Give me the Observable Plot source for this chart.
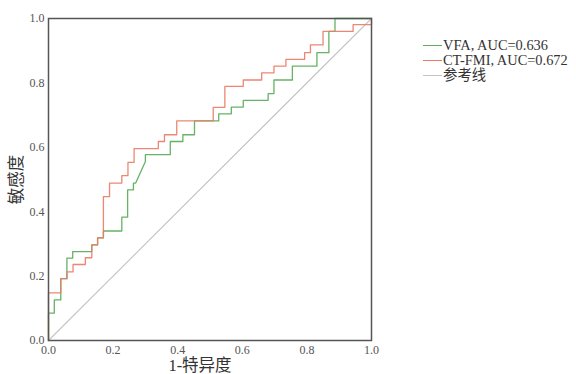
<!DOCTYPE html>
<html>
<head>
<meta charset="utf-8">
<script src="https://cdn.jsdelivr.net/npm/d3@7"></script>
<script src="https://cdn.jsdelivr.net/npm/@observablehq/plot@0.6"></script>
<style>
  html, body { margin: 0; padding: 0; background: #fff; }
  #wrap { position: relative; width: 576px; height: 374px; }
  #legend { position: absolute; left: 423px; top: 38px; font-family: "Liberation Serif", "Noto Sans CJK SC", serif; font-size: 14.4px; color: #333; line-height: 15px; }
  .row { display: flex; align-items: center; height: 15px; white-space: nowrap; }
  .sw { width: 19px; height: 0; border-top: 1.2px solid; margin-right: 1px; }
</style>
</head>
<body>
<div id="wrap"><div id="legend"></div></div>
<script>
const seriesNames = ["VFA, AUC=0.636", "CT-FMI, AUC=0.672", "参考线"];
const seriesColors = ["#5eae5e", "#ea7a64", "#c4c4c4"];

const vfaFpr = [0,0,0.018,0.018,0.038,0.038,0.057,0.057,0.075,0.075,0.134,0.134,0.152,0.152,0.170,0.170,0.227,0.227,0.245,0.245,0.263,0.263,0.270,0.300,0.300,0.377,0.377,0.416,0.416,0.452,0.452,0.527,0.527,0.566,0.566,0.603,0.603,0.680,0.680,0.698,0.698,0.755,0.755,0.831,0.831,0.868,0.868,0.887,0.887,1];
const vfaTpr = [0,0.085,0.085,0.126,0.126,0.192,0.192,0.256,0.256,0.276,0.276,0.297,0.297,0.319,0.319,0.340,0.340,0.383,0.383,0.468,0.468,0.489,0.489,0.556,0.577,0.577,0.618,0.618,0.639,0.639,0.682,0.682,0.704,0.704,0.725,0.725,0.746,0.746,0.767,0.767,0.809,0.809,0.852,0.852,0.894,0.894,0.960,0.960,1,1];

const ctFpr = [0,0,0.038,0.038,0.057,0.057,0.076,0.076,0.114,0.114,0.134,0.134,0.152,0.152,0.170,0.170,0.189,0.189,0.227,0.227,0.246,0.246,0.265,0.265,0.340,0.340,0.359,0.359,0.397,0.397,0.510,0.510,0.546,0.546,0.603,0.603,0.660,0.660,0.698,0.698,0.735,0.735,0.793,0.793,0.811,0.811,0.850,0.850,0.943,0.943,1,1];
const ctTpr = [0,0.148,0.148,0.192,0.192,0.213,0.213,0.236,0.236,0.257,0.257,0.297,0.297,0.319,0.319,0.447,0.447,0.489,0.489,0.512,0.512,0.553,0.553,0.596,0.596,0.618,0.618,0.639,0.639,0.682,0.682,0.724,0.724,0.789,0.789,0.809,0.809,0.831,0.831,0.852,0.852,0.873,0.873,0.894,0.894,0.918,0.918,0.960,0.960,0.981,0.981,1];

const refFpr = [0, 1];
const refTpr = [0, 1];

const xTicks = [0, 0.2, 0.4, 0.6, 0.8, 1.0];
const yTicks = [0, 0.2, 0.4, 0.6, 0.8, 1.0];

const toPts = (xs, ys) => xs.map((x, i) => ({x, y: ys[i]}));

const font = '"Liberation Serif", "Noto Sans CJK SC", serif';

const chart = Plot.plot({
  width: 576,
  height: 374,
  marginLeft: 48,
  marginTop: 18,
  marginBottom: 34,
  marginRight: 205,
  style: { fontFamily: font, fontSize: "12px", color: "#555", background: "transparent" },
  x: { domain: [0, 1], ticks: xTicks, tickFormat: d3.format(".1f"), tickSize: 0, tickPadding: 5, label: "1-特异度", labelAnchor: "center", labelArrow: "none", labelOffset: 30 },
  y: { domain: [0, 1], ticks: yTicks, tickFormat: d3.format(".1f"), tickSize: 0, tickPadding: 4, label: "敏感度", labelAnchor: "center", labelArrow: "none", labelOffset: 38 },
  marks: [
    Plot.line(toPts(refFpr, refTpr), {x: "x", y: "y", stroke: seriesColors[2], strokeWidth: 1.1}),
    Plot.line(toPts(vfaFpr, vfaTpr), {x: "x", y: "y", stroke: seriesColors[0], strokeWidth: 1.3, strokeOpacity: 0.95}),
    Plot.line(toPts(ctFpr, ctTpr), {x: "x", y: "y", stroke: seriesColors[1], strokeWidth: 1.3, strokeOpacity: 0.9}),
    Plot.frame({stroke: "#555", strokeWidth: 1.5})
  ]
});

// style axis labels
chart.querySelectorAll('[aria-label="x-axis label"] text').forEach(t => {
  t.style.fontSize = "16.5px";
  t.style.fill = "#333";
  t.setAttribute("dx", "-10");
});
chart.querySelectorAll('[aria-label="y-axis label"] text').forEach(t => {
  t.style.fontSize = "16.5px";
  t.style.fill = "#333";
});

const wrap = document.getElementById("wrap");
wrap.insertBefore(chart, wrap.firstChild);

const legend = document.getElementById("legend");
seriesNames.forEach((n, i) => {
  const row = document.createElement("div");
  row.className = "row";
  const sw = document.createElement("span");
  sw.className = "sw";
  sw.style.borderTopColor = seriesColors[i];
  const lab = document.createElement("span");
  lab.textContent = n;
  row.appendChild(sw);
  row.appendChild(lab);
  legend.appendChild(row);
});
</script>
</body>
</html>
